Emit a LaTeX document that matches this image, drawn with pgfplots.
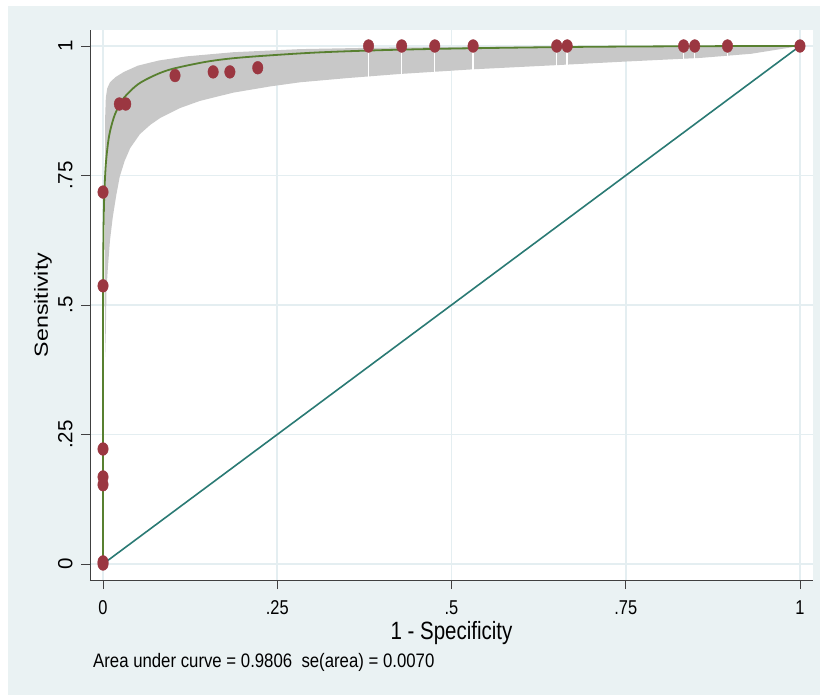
\documentclass[border=0pt]{standalone}
\usepackage{pgfplots}
\pgfplotsset{compat=1.18}
\usepackage{fontspec}
\setmainfont{Liberation Sans}
\newfontfamily\xtickfont{Liberation Sans}[FakeStretch=0.82]
\newfontfamily\notefont{Liberation Sans}[FakeStretch=0.86]
\newfontfamily\ytitlefont{Liberation Sans}[FakeStretch=1.22]

\definecolor{statabg}{RGB}{234,242,243}
\definecolor{gridc}{RGB}{228,238,241}
\definecolor{markc}{RGB}{155,55,65}
\definecolor{curvec}{RGB}{88,128,48}
\definecolor{diagc}{RGB}{42,122,116}
\definecolor{bandc}{RGB}{200,200,200}

\begin{document}
\begin{tikzpicture}
\fill[white] (-90bp,-117bp) rectangle (731bp,580bp);
\fill[statabg] (-82bp,-115bp) rectangle (730bp,574bp);
\path[use as bounding box] (-90bp,-117bp) rectangle (731bp,580bp);
\begin{axis}[
    at={(0,0)}, anchor=south west,
    scale only axis, width=723bp, height=550bp,
    xmin=-0.0187, xmax=1.0187,
    ymin=-0.0309, ymax=1.0309,
    axis x line*=bottom, axis y line*=left,
    axis line style={-, draw=black!75, line width=0.9bp},
    axis background/.style={fill=white},
    xtick={0,0.25,0.5,0.75,1}, xticklabels={0,.25,.5,.75,1},
    ytick={0,0.25,0.5,0.75,1}, yticklabels={0,.25,.5,.75,1},
    tick align=outside, major tick length=9bp,
    tick style={draw=black!75, line width=0.9bp},
    grid=major, major grid style={draw=gridc, line width=1.6bp},
    xticklabel style={font=\xtickfont\fontsize{20bp}{24bp}\selectfont, yshift=-8bp},
    yticklabel style={font=\fontsize{20.5bp}{24bp}\selectfont, xshift=-5bp, rotate=90, anchor=south},
    xlabel={1 - Specificity},
    xlabel style={font=\xtickfont\fontsize{25bp}{30bp}\selectfont, at={(axis description cs:0.5,0)}, anchor=center, yshift=-53bp},
    ylabel={Sensitivity},
    ylabel style={font=\ytitlefont\fontsize{19bp}{24bp}\selectfont, at={(axis description cs:0,0.5)}, anchor=center, yshift=47bp},
    clip=false,
]
% confidence band: lower edge then upper edge back
\addplot[draw=none, fill=bandc] coordinates {
    (0.0030,0.40) (0.0040,0.45) (0.0050,0.53) (0.0070,0.573) (0.010,0.625)
    (0.014,0.670) (0.019,0.712) (0.024,0.748) (0.031,0.778) (0.039,0.803)
    (0.053,0.830) (0.068,0.848) (0.082,0.861) (0.110,0.880) (0.139,0.894)
    (0.187,0.910) (0.240,0.922) (0.283,0.930) (0.350,0.938) (0.426,0.946)
    (0.531,0.955) (0.650,0.963) (0.750,0.970) (0.857,0.977) (0.930,0.985) (1,1)
    (0.800,0.9995) (0.600,0.999) (0.400,0.997) (0.283,0.994) (0.187,0.988)
    (0.120,0.980) (0.080,0.972) (0.050,0.962) (0.030,0.950) (0.018,0.940)
    (0.010,0.930) (0.006,0.918) (0.004,0.900) (0.003,0.86) (0.003,0.40)
};
% white gaps in the band at the points on the top
\addplot[white, line width=1.4bp, unbounded coords=jump] coordinates {
    (0.381,0.940) (0.381,0.990) (0.381,nan)
    (0.4285,0.945) (0.4285,0.991) (0.4285,nan)
    (0.476,0.949) (0.476,0.992) (0.476,nan)
    (0.531,0.953) (0.531,0.993) (0.531,nan)
    (0.651,0.961) (0.651,0.995) (0.651,nan)
    (0.666,0.962) (0.666,0.995) (0.666,nan)
    (0.833,0.974) (0.833,0.997) (0.833,nan)
    (0.849,0.975) (0.849,0.997) (0.849,nan)
    (0.896,0.979) (0.896,0.998)
};
% observed points
\addplot[only marks, mark=*, mark size=6.4bp, color=markc,
    mark options={xscale=0.82, draw=none, fill=markc}] coordinates {
    (0,0) (0,0.004) (0,0.153) (0,0.168) (0,0.222) (0,0.537) (0,0.718)
    (0.0234,0.888) (0.0326,0.888) (0.1033,0.943) (0.158,0.950) (0.182,0.950)
    (0.222,0.958)
    (0.381,1) (0.4285,1) (0.476,1) (0.531,1) (0.651,1) (0.666,1)
    (0.833,1) (0.849,1) (0.896,1) (1,1)
};
% fitted ROC curve
\addplot[curvec, line width=1.8bp, smooth] coordinates {
    (0,0) (0.00001,0.350) (0.0001,0.499) (0.0005,0.616) (0.001,0.669)
    (0.002,0.721) (0.004,0.772) (0.007,0.811) (0.010,0.835) (0.015,0.860)
    (0.020,0.877) (0.030,0.900) (0.050,0.926) (0.075,0.944) (0.100,0.956)
    (0.150,0.970) (0.200,0.978) (0.300,0.987) (0.400,0.992) (0.500,0.995)
    (0.600,0.997) (0.700,0.9985) (0.800,0.9993) (0.900,0.9998) (1,1)
};
% reference line
\addplot[diagc, line width=1.6bp] coordinates {(0,0) (1,1)};
\end{axis}
\node[anchor=west, font=\notefont\fontsize{19.5bp}{24bp}\selectfont, inner sep=0pt]
    at (3bp,-82bp) {Area under curve = 0.9806\ \ se(area) = 0.0070};
\end{tikzpicture}
\end{document}
